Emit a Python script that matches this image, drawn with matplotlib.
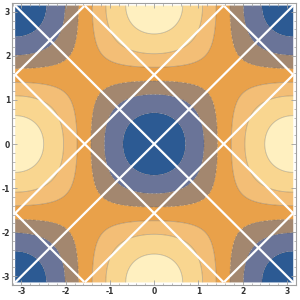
import numpy as np
import matplotlib
matplotlib.use("Agg")
import matplotlib.pyplot as plt
from matplotlib.ticker import MultipleLocator

plt.rcParams["axes.unicode_minus"] = False

# Data
levels = [-1.0, -0.76, -0.43, -0.14, 0.17, 0.46, 0.8, 1.0]
band_colors = ["#2c5a93", "#6a7498", "#a3876f", "#e9a14a", "#f3be76", "#f9d690", "#fff0c0"]
sum_offsets = [-1.5 * np.pi, -0.5 * np.pi, 0.0, 0.5 * np.pi, 1.5 * np.pi]   # x + y = c
diff_offsets = [-1.5 * np.pi, -0.5 * np.pi, 0.0, 0.5 * np.pi, 1.5 * np.pi]  # x - y = c
xticks = [-3, -2, -1, 0, 1, 2, 3]
yticks = [-3, -2, -1, 0, 1, 2, 3]

fig = plt.figure(figsize=(3, 3), dpi=100)
ax = fig.add_axes([0.041, 0.049, 0.946, 0.942])

x = np.linspace(-np.pi, np.pi, 500)
X, Y = np.meshgrid(x, x)
Z = -np.cos(X) * np.cos(Y)

ax.contourf(X, Y, Z, levels=levels, colors=band_colors, antialiased=True)
ax.contour(X, Y, Z, levels=levels[1:-1], colors=[(0.25, 0.25, 0.25, 0.3)], linewidths=0.6)

# white mesh lines
t = np.linspace(-np.pi, np.pi, 400)
for c in sum_offsets:
    yy = c - t
    m = (yy >= -np.pi - 1e-9) & (yy <= np.pi + 1e-9)
    if m.sum() > 1:
        ax.plot(t[m], yy[m], color="white", lw=1.6, solid_capstyle="butt")
for c in diff_offsets:
    yy = t - c
    m = (yy >= -np.pi - 1e-9) & (yy <= np.pi + 1e-9)
    if m.sum() > 1:
        ax.plot(t[m], yy[m], color="white", lw=1.6, solid_capstyle="butt")

pad = 0.065
ax.set_xlim(-np.pi - pad, np.pi + pad)
ax.set_ylim(-np.pi - pad, np.pi + pad)
ax.set_xticks(xticks)
ax.set_yticks(yticks)
ax.xaxis.set_minor_locator(MultipleLocator(0.2))
ax.yaxis.set_minor_locator(MultipleLocator(0.2))
for s in ax.spines.values():
    s.set_color("#a0a0a0")
    s.set_linewidth(0.8)
ax.tick_params(which="both", direction="in", top=True, right=True, color="#a0a0a0",
               labelsize=5.5, labelcolor="#333333", pad=1.5)
ax.tick_params(which="major", length=3.5, width=0.6)
ax.tick_params(which="minor", length=1.8, width=0.5)
for lab in ax.get_xticklabels() + ax.get_yticklabels():
    lab.set_fontweight("bold")
ax.tick_params(axis="x", labeltop=False)
ax.tick_params(axis="y", labelright=False)

fig.savefig("out.png", dpi=100)
